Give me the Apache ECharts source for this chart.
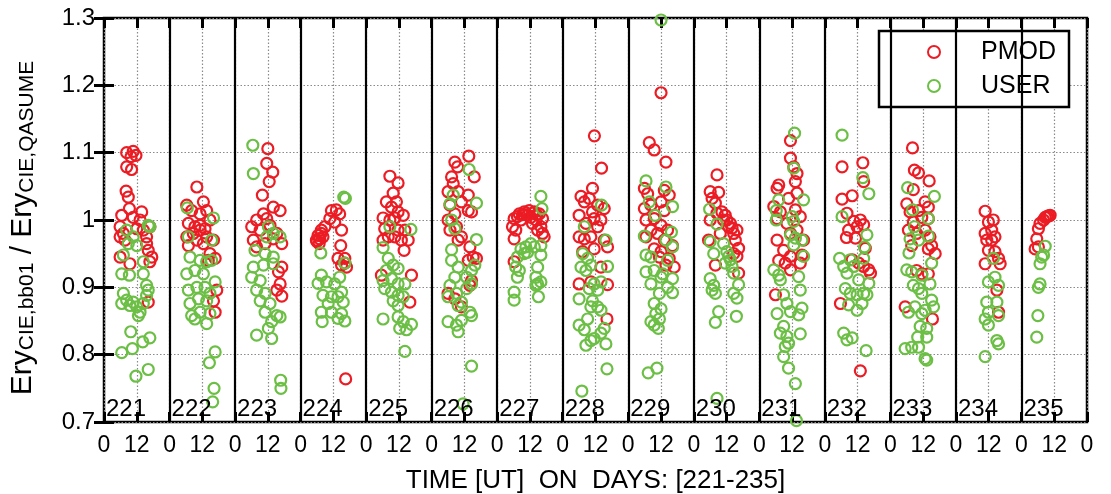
<!DOCTYPE html>
<html>
<head>
<meta charset="utf-8">
<script src="https://cdn.jsdelivr.net/npm/echarts@6/dist/echarts.min.js"></script>
<style>html,body{margin:0;padding:0;background:#fff}#chart{width:1111px;height:494px}</style>
</head>
<body>
<div id="chart"></div>
<script>
// Days shown on the time axis
const days = [221,222,223,224,225,226,227,228,229,230,231,232,233,234,235];
const yTicks = [0.7,0.8,0.9,1.0,1.1,1.2,1.3];
const xTickLabels = ['0','12'];
const seriesNames = ['PMOD','USER'];

// [day, hour UT, ratio]
const pmodPoints = [
[221,8.3,1.100],[221,10.7,1.102],[221,11.7,1.096],[221,9.9,1.094],[221,8.3,1.079],[221,10.1,1.075],
[221,8.1,1.043],[221,8.9,1.034],[221,9.3,1.017],[221,6.5,1.007],[221,13.8,1.012],[221,10.7,1.004],
[221,5.9,0.990],[221,7.1,0.980],[221,12.0,0.987],[221,14.4,0.985],[221,16.8,0.990],
[221,15.6,0.965],[221,16.2,0.955],[221,17.5,0.945],[221,16.8,0.938],[221,5.9,0.945],[221,9.5,0.935],
[221,16.2,0.878],[221,13.2,1.000],[221,7.7,0.970],[221,15.6,0.975],[221,5.9,0.975],
[222,10.0,1.049],[222,6.3,1.022],[222,12.4,1.027],[222,8.1,1.014],[222,11.2,1.009],[222,13.6,1.014],
[222,6.9,0.995],[222,9.3,0.990],[222,11.2,0.992],[222,13.0,0.987],[222,14.8,1.000],[222,6.3,0.975],[222,8.7,0.980],[222,11.2,0.985],[222,13.6,0.975],[222,16.1,0.970],[222,6.9,0.962],[222,10.0,0.970],[222,12.4,0.965],
[222,14.8,0.950],[222,16.7,0.943],[222,14.2,0.940],[222,17.3,0.896],[222,16.7,0.863],[222,16.1,0.880],
[223,12.0,1.106],[223,11.6,1.084],[223,13.8,1.071],[223,12.5,1.057],[223,10.0,1.037],
[223,14.0,1.019],[223,16.5,1.014],[223,10.4,1.009],[223,7.9,1.000],[223,11.6,1.002],
[223,6.1,0.990],[223,9.2,0.985],[223,12.8,0.992],[223,15.3,0.980],[223,6.7,0.970],[223,11.0,0.965],[223,17.1,0.965],[223,7.9,0.960],[223,14.0,0.972],
[223,17.1,0.930],[223,15.9,0.923],[223,16.5,0.905],[223,15.3,0.896],[223,17.1,0.887],
[224,11.3,1.014],[224,13.1,1.015],[224,14.3,1.009],[224,10.7,1.002],[224,12.5,0.997],[224,8.9,0.990],[224,7.6,0.985],[224,15.0,0.985],[224,6.4,0.977],[224,7.0,0.972],[224,8.2,0.975],[224,5.8,0.970],
[224,6.0,0.968],[224,6.8,0.965],[224,7.5,0.980],
[224,14.7,0.962],[224,13.7,0.943],[224,16.2,0.943],[224,15.0,0.933],[224,16.8,0.930],[224,16.2,0.936],[224,16.5,0.764],
[225,8.7,1.065],[225,11.7,1.055],[225,9.9,1.040],[225,7.4,1.027],[225,11.1,1.027],[225,9.3,1.019],[225,11.7,1.012],[225,13.6,1.007],[225,6.2,1.003],[225,8.7,1.000],[225,10.5,1.003],[225,6.8,0.987],[225,11.7,0.985],[225,14.2,0.985],[225,6.2,0.970],[225,12.9,0.970],[225,15.4,0.970],[225,8.1,0.975],[225,10.5,0.975],[225,13.9,0.955],
[225,5.6,0.918],[225,16.6,0.918],[225,16.0,0.878],
[226,13.6,1.095],[226,8.5,1.086],[226,9.5,1.079],[226,15.6,1.064],[226,7.3,1.064],[226,7.9,1.054],[226,6.0,1.042],[226,9.7,1.042],[226,13.4,1.037],[226,10.9,1.027],[226,6.7,1.022],[226,8.5,1.009],[226,13.4,1.014],[226,14.6,1.012],[226,6.0,1.000],[226,9.1,0.990],[226,6.7,0.985],[226,10.9,0.975],[226,9.7,0.970],[226,14.0,0.960],[226,15.2,0.945],[226,16.4,0.943],[226,13.4,0.940],
[226,14.6,0.910],[226,14.0,0.903],[226,6.0,0.891],[226,8.5,0.883],[226,10.9,0.871],
[227,6.2,1.002],[227,8.1,1.009],[227,9.9,1.012],[227,11.7,1.014],[227,13.6,1.012],[227,15.4,1.009],[227,16.6,1.002],[227,5.6,0.990],[227,6.8,0.985],[227,6.2,0.972],[227,16.0,0.990],[227,16.6,0.980],[227,17.2,0.975],[227,14.8,0.985],[227,12.3,1.004],[227,8.7,1.000],[227,6.2,0.938],[227,12.9,0.995],[227,14.2,1.000],[227,11.1,1.007],
[227,7.4,1.005],[227,9.3,1.008],[227,10.5,1.010],[227,13.0,1.010],[227,14.5,1.008],
[228,11.6,1.125],[228,14.2,1.077],[228,10.9,1.047],[228,6.7,1.035],[228,9.7,1.032],[228,7.9,1.027],[228,12.8,1.022],[228,15.2,1.017],[228,6.0,1.007],[228,10.9,1.012],[228,11.5,1.002],[228,14.0,1.000],[228,8.5,0.995],[228,12.8,0.990],[228,6.0,0.975],[228,7.9,0.972],[228,10.3,0.975],[228,15.2,0.970],[228,16.4,0.960],[228,11.5,0.957],[228,7.3,0.953],[228,14.0,0.930],
[228,6.0,0.905],[228,10.3,0.908],[228,16.4,0.904],[228,16.2,0.853],
[229,12.0,1.189],[229,7.7,1.115],[229,9.5,1.104],[229,13.8,1.086],
[229,5.9,1.047],[229,7.1,1.039],[229,13.2,1.044],[229,15.0,1.037],[229,5.9,1.017],[229,8.3,1.022],[229,12.0,1.027],[229,13.2,1.014],[229,6.5,1.000],[229,9.5,1.002],[229,12.0,0.992],[229,8.3,0.985],[229,10.7,0.980],[229,14.4,0.985],[229,6.5,0.975],[229,13.2,0.970],[229,16.2,0.962],[229,9.5,0.957],[229,12.0,0.953],[229,15.0,0.943],[229,16.8,0.930],[229,13.8,0.933],[229,11.4,0.945],
[230,8.5,1.067],[230,6.0,1.042],[230,9.1,1.041],[230,6.7,1.032],[230,7.9,1.025],
[230,8.5,1.010],[230,10.3,1.012],[230,11.5,1.007],[230,12.1,1.000],[230,13.4,0.995],[230,14.0,0.988],[230,14.6,0.980],[230,15.8,0.985],[230,15.2,0.970],[230,16.4,0.958],[230,15.8,0.946],[230,6.0,1.000],[230,5.4,0.970],[230,9.7,0.980],[230,7.9,0.933],[230,16.4,0.921],[230,14.6,0.950],[230,10.9,1.000],[230,12.8,0.990],
[231,11.4,1.118],[231,11.4,1.092],[231,12.6,1.079],[231,13.8,1.069],[231,13.2,1.057],[231,7.1,1.052],[231,6.5,1.047],[231,13.8,1.040],[231,10.7,1.032],[231,5.3,1.020],[231,7.7,1.012],[231,13.2,1.015],[231,6.5,1.002],[231,10.1,0.995],[231,15.0,1.005],[231,13.8,0.985],[231,11.4,0.980],[231,16.2,0.970],[231,6.5,0.970],[231,8.9,0.955],[231,11.4,0.946],[231,9.5,0.936],[231,15.0,0.936],[231,11.4,0.926],[231,5.9,0.889],[231,15.6,0.948],[231,7.1,0.940],
[232,6.3,1.079],[232,13.9,1.085],[232,14.2,1.057],[232,6.3,1.031],[232,10.0,1.036],
[232,8.1,1.010],[232,10.6,0.998],[232,13.0,1.000],[232,8.7,0.985],[232,11.8,0.990],[232,14.2,0.993],[232,7.9,0.974],[232,11.2,0.973],[232,14.8,0.958],[232,10.0,0.941],[232,12.4,0.936],[232,14.2,0.931],[232,16.1,0.926],[232,16.7,0.921],[232,5.7,0.876],[232,13.0,0.776],
[233,8.1,1.107],[233,8.8,1.074],[233,10.3,1.070],[233,14.2,1.058],[233,8.4,1.045],[233,6.0,1.024],[233,7.2,1.012],[233,12.7,1.027],[233,13.9,1.019],[233,10.3,1.014],[233,11.5,1.004],[233,8.4,0.997],[233,13.9,1.002],[233,6.6,0.985],[233,9.6,0.980],[233,12.7,0.985],[233,14.5,0.975],[233,15.1,0.962],[233,16.4,0.950],[233,13.9,0.957],[233,7.8,0.962],
[233,11.5,0.920],[233,13.9,0.920],[233,9.6,0.925],[233,5.4,0.871],[233,15.4,0.853],
[234,10.7,1.013],[234,13.7,1.000],[234,11.9,0.997],[234,10.7,0.980],[234,13.1,0.985],[234,14.3,0.975],[234,11.3,0.970],[234,13.1,0.970],[234,11.9,0.955],[234,14.3,0.953],[234,15.6,0.943],[234,10.7,0.935],[234,16.2,0.935],[234,15.0,0.896],[234,15.6,0.863],
[235,10.5,1.007],[235,9.3,1.005],[235,8.1,1.000],[235,6.8,0.995],[235,6.2,0.987],[235,8.7,1.004],[235,5.6,0.972],[235,5.0,0.957],[235,6.2,0.960],[235,9.9,1.006]
];

const userPoints = [
[221,8.3,0.985],[221,10.7,0.975],[221,8.9,0.965],[221,12.0,0.962],[221,7.1,0.948],[221,16.2,0.992],[221,16.8,0.990],
[221,14.4,0.938],[221,14.4,0.920],[221,6.5,0.920],[221,9.3,0.918],[221,15.6,0.903],[221,16.2,0.896],
[221,7.1,0.891],[221,8.3,0.881],[221,6.5,0.876],[221,10.7,0.878],[221,12.0,0.871],[221,13.2,0.863],[221,12.6,0.858],[221,14.4,0.876],[221,15.6,0.888],[221,9.5,0.873],
[221,9.8,0.834],[221,10.4,0.809],[221,6.5,0.803],[221,14.2,0.819],[221,16.8,0.825],[221,11.7,0.768],[221,16.2,0.778],
[222,6.5,1.018],[222,16.1,1.003],[222,6.9,0.975],[222,15.4,0.970],
[222,7.5,0.945],[222,11.2,0.940],[222,13.6,0.938],[222,15.4,0.940],
[222,6.3,0.920],[222,9.3,0.925],[222,12.4,0.920],[222,16.7,0.908],[222,6.9,0.896],[222,10.0,0.900],[222,13.0,0.900],[222,14.8,0.891],[222,7.5,0.876],[222,10.6,0.883],[222,13.6,0.880],[222,8.1,0.858],[222,11.2,0.863],[222,14.8,0.861],[222,9.3,0.853],[222,13.6,0.846],
[222,16.7,0.804],[222,14.6,0.788],[222,16.3,0.750],[222,15.8,0.730],
[223,6.5,1.111],[223,6.7,1.069],[223,12.2,0.990],[223,14.0,0.980],[223,16.5,0.975],[223,11.6,0.975],[223,7.3,0.955],[223,11.0,0.950],[223,14.0,0.945],
[223,6.7,0.930],[223,10.4,0.933],[223,14.0,0.935],[223,6.1,0.915],[223,9.2,0.910],[223,7.9,0.896],[223,11.0,0.891],[223,9.2,0.880],[223,12.8,0.876],[223,11.0,0.863],[223,15.3,0.858],[223,16.5,0.856],[223,13.4,0.849],[223,12.2,0.839],[223,7.9,0.829],[223,13.4,0.824],
[223,16.7,0.762],[223,16.8,0.750],
[224,15.8,1.034],[224,16.4,1.032],[224,7.4,0.951],[224,16.2,0.936],
[224,7.6,0.918],[224,6.4,0.906],[224,9.5,0.908],[224,12.5,0.905],[224,14.3,0.915],[224,15.0,0.893],[224,8.2,0.888],[224,11.3,0.886],[224,13.7,0.886],[224,10.1,0.876],[224,15.6,0.878],[224,7.6,0.863],[224,11.3,0.863],[224,15.0,0.861],[224,7.9,0.849],[224,13.7,0.854],[224,16.2,0.850],
[225,8.7,0.990],[225,16.4,0.986],[225,6.2,0.959],
[225,8.1,0.943],[225,9.9,0.933],[225,11.7,0.928],[225,7.4,0.925],[225,6.2,0.910],[225,9.3,0.913],[225,11.7,0.905],[225,14.2,0.905],[225,6.8,0.898],[225,9.3,0.893],[225,11.7,0.888],[225,13.6,0.886],[225,9.9,0.880],[225,11.7,0.873],[225,6.2,0.853],[225,11.7,0.856],[225,13.6,0.849],[225,12.3,0.839],[225,14.8,0.837],[225,16.6,0.845],[225,14.2,0.805],
[226,13.7,1.075],[226,16.4,1.025],[226,6.7,1.024],[226,7.9,1.037],[226,7.3,1.000],[226,8.5,0.987],[226,16.4,0.971],[226,7.3,0.956],
[226,7.3,0.940],[226,9.7,0.930],[226,8.5,0.915],[226,6.7,0.903],[226,12.8,0.915],[226,15.8,0.933],[226,14.6,0.925],[226,12.8,0.898],[226,14.6,0.905],[226,9.1,0.891],[226,10.9,0.878],[226,6.0,0.886],[226,9.7,0.873],[226,14.0,0.863],[226,14.6,0.858],[226,10.9,0.851],[226,6.0,0.849],[226,9.1,0.844],[226,9.7,0.834],
[226,14.6,0.783],[226,11.5,0.727],
[227,16.0,1.035],[227,16.4,1.017],[227,16.0,0.962],[227,16.0,0.948],[227,14.8,0.930],[227,14.2,0.915],[227,14.8,0.905],[227,14.2,0.903],[227,16.0,0.908],[227,15.1,0.886],
[227,8.7,0.957],[227,10.5,0.960],[227,12.3,0.965],[227,7.4,0.945],[227,9.9,0.950],[227,6.8,0.930],[227,8.1,0.925],[227,7.4,0.915],[227,6.2,0.893],[227,6.2,0.881],[227,13.6,0.960],[227,11.1,0.952],
[228,14.2,1.022],[228,7.9,0.990],[228,15.8,0.970],[228,16.4,0.931],
[228,7.3,0.950],[228,9.1,0.943],[228,6.7,0.930],[228,10.3,0.933],[228,8.5,0.925],[228,11.5,0.905],[228,14.0,0.908],[228,9.7,0.898],[228,12.8,0.896],[228,6.0,0.883],[228,10.9,0.880],[228,12.8,0.871],[228,10.3,0.871],[228,14.0,0.866],[228,9.1,0.853],[228,6.0,0.844],[228,7.9,0.837],[228,15.2,0.839],[228,14.0,0.832],[228,10.3,0.821],[228,8.5,0.814],[228,11.5,0.824],[228,15.8,0.816],[228,16.2,0.779],[228,7.0,0.746],
[229,12.0,1.297],[229,6.5,1.058],[229,13.8,1.049],[229,7.7,1.027],[229,9.8,1.007],[229,16.2,1.020],[229,15.8,0.982],[229,5.9,0.976],[229,13.8,0.970],[229,16.2,0.960],
[229,6.5,0.948],[229,8.3,0.945],[229,14.4,0.940],[229,6.5,0.923],[229,9.5,0.925],[229,12.6,0.920],[229,8.3,0.905],[229,12.0,0.915],[229,16.2,0.913],[229,14.4,0.900],[229,11.4,0.891],[229,16.2,0.892],[229,9.5,0.876],[229,12.0,0.868],[229,10.1,0.861],[229,8.3,0.849],[229,11.4,0.853],[229,9.5,0.844],[229,11.0,0.839],[229,7.3,0.773],[229,10.5,0.780],
[230,5.8,1.016],[230,8.5,0.994],[230,6.0,0.968],[230,7.3,0.950],[230,10.9,0.965],[230,12.1,0.953],[230,13.4,0.941],[230,14.0,0.931],[230,14.6,0.921],[230,12.8,0.946],[230,11.5,0.936],
[230,6.0,0.913],[230,7.3,0.903],[230,7.9,0.891],[230,6.7,0.896],[230,16.4,0.904],[230,14.6,0.891],[230,15.8,0.884],[230,9.1,0.864],[230,7.9,0.848],[230,15.6,0.857],[230,8.5,0.735],
[231,12.9,1.129],[231,12.6,1.077],[231,16.2,1.030],[231,7.1,1.030],[231,6.2,1.014],[231,6.2,1.000],[231,12.0,1.005],[231,12.6,0.998],
[231,11.4,0.978],[231,13.2,0.973],[231,15.6,0.970],[231,12.6,0.963],[231,16.2,0.946],[231,5.3,0.926],[231,7.1,0.918],[231,7.7,0.911],[231,14.4,0.916],[231,15.0,0.896],[231,8.9,0.889],[231,10.1,0.876],[231,6.5,0.861],[231,11.4,0.864],[231,15.6,0.869],[231,14.4,0.859],
[231,8.9,0.842],[231,7.7,0.832],[231,10.1,0.827],[231,15.0,0.831],[231,9.5,0.812],[231,10.7,0.817],[231,8.9,0.797],[231,10.7,0.780],[231,13.2,0.757],[231,13.6,0.702],
[232,6.3,1.126],[232,13.9,1.063],[232,16.1,1.039],[232,6.3,1.005],
[232,15.4,0.978],[232,14.5,0.960],[232,14.2,0.943],[232,5.4,0.943],[232,6.9,0.931],[232,9.3,0.941],[232,8.1,0.921],[232,10.6,0.931],[232,16.1,0.906],[232,12.4,0.911],[232,7.5,0.898],[232,9.3,0.891],[232,11.8,0.889],[232,14.2,0.891],[232,15.4,0.889],[232,8.7,0.874],[232,13.6,0.876],[232,11.8,0.866],
[232,6.9,0.832],[232,8.1,0.822],[232,10.0,0.825],[232,15.1,0.806],
[233,6.3,1.048],[233,16.1,1.035],[233,8.1,1.015],[233,13.9,1.002],[233,8.8,0.990],[233,7.2,0.972],[233,13.9,0.976],[233,10.3,0.970],[233,6.8,0.951],[233,15.1,0.936],
[233,6.0,0.926],[233,7.8,0.923],[233,11.5,0.918],[233,14.5,0.905],[233,8.4,0.903],[233,10.3,0.898],[233,11.5,0.891],[233,6.6,0.863],[233,9.0,0.871],[233,12.7,0.866],[233,15.1,0.881],[233,15.8,0.871],[233,11.5,0.861],[233,10.9,0.842],[233,13.3,0.839],[233,10.0,0.826],[233,13.3,0.826],[233,5.4,0.809],[233,7.8,0.811],[233,10.3,0.811],[233,13.3,0.792],[233,12.7,0.794],
[234,13.7,0.943],[234,14.3,0.915],[234,11.9,0.908],[234,15.6,0.903],[234,11.3,0.878],[234,15.0,0.878],[234,11.9,0.863],[234,10.7,0.853],[234,15.6,0.858],[234,11.9,0.844],[234,15.0,0.821],[234,15.6,0.816],[234,10.7,0.797],
[235,8.7,0.961],[235,8.1,0.948],[235,7.4,0.945],[235,6.8,0.935],[235,6.8,0.905],[235,6.2,0.900],[235,6.0,0.858],[235,5.6,0.826]
];

const firstDay = days[0];
const toXY = p => [(p[0] - firstDay) * 24 + p[1], p[2]];
const xMax = days.length * 24;
const boundaries = days.slice(1).map(d => (d - firstDay) * 24);

const FONT = 'Liberation Sans, Arial, Helvetica, sans-serif';
const RED = '#ec1c24';
const GREEN = '#6cbf45';

const chart = echarts.init(document.getElementById('chart'), null, {renderer: 'canvas'});
const gridLine = {show: true, lineStyle: {color: '#8a8a8a', width: 1.2, type: [1.5, 2]}};

chart.setOption({
  animation: false,
  backgroundColor: '#fff',
  grid: {left: 104, right: 24, top: 18, bottom: 72, outerBoundsMode: 'none', containLabel: false,
    show: true, borderColor: '#000', borderWidth: 2.5, backgroundColor: 'transparent'},
  legend: {
    data: seriesNames,
    orient: 'vertical',
    left: 879, top: 31,
    backgroundColor: '#fff',
    borderColor: '#000', borderWidth: 2.5, borderRadius: 0,
    padding: [8, 13, 8, 48],
    itemWidth: 12, itemHeight: 12, itemGap: 8,
    textStyle: {fontFamily: FONT, fontSize: 25, color: '#000', lineHeight: 26, padding: [0, 0, 0, 36]}
  },
  xAxis: [{
    type: 'value', min: 0, max: xMax, interval: 12, position: 'bottom',
    name: 'TIME [UT]  ON  DAYS: [' + days[0] + '-' + days[days.length - 1] + ']',
    nameLocation: 'middle', nameGap: 46,
    nameTextStyle: {fontFamily: FONT, fontSize: 26, color: '#000'},
    axisLine: {show: false},
    axisTick: {show: true, inside: true, length: 10, lineStyle: {color: '#000', width: 3}},
    axisLabel: {fontFamily: FONT, fontSize: 23, color: '#000', margin: 12,
      formatter: v => (Math.round(v) % 24 === 0 ? xTickLabels[0] : xTickLabels[1])},
    splitLine: gridLine
  }, {
    type: 'value', min: 0, max: xMax, interval: 12, position: 'top',
    axisLine: {show: false},
    axisTick: {show: true, inside: true, length: 10, lineStyle: {color: '#000', width: 3}},
    axisLabel: {show: false}, splitLine: {show: false}
  }],
  yAxis: [{
    type: 'value', min: yTicks[0], max: yTicks[yTicks.length - 1], interval: 0.1,
    name: '{a|Ery}{s|CIE,bb01}{a| / Ery}{s|CIE,QASUME}',
    nameLocation: 'middle', nameRotate: 90, nameGap: 66,
    nameTextStyle: {
      color: '#000',
      padding: [0, 16, 0, 0],
      rich: {
        a: {fontFamily: FONT, fontSize: 30, lineHeight: 30, color: '#000'},
        s: {fontFamily: FONT, fontSize: 21, lineHeight: 11, verticalAlign: 'bottom', color: '#000'}
      }
    },
    axisLine: {show: false},
    axisTick: {show: true, inside: true, length: 10, lineStyle: {color: '#000', width: 3}},
    axisLabel: {fontFamily: FONT, fontSize: 24, color: '#000', margin: 9,
      formatter: v => String(+v.toFixed(1))},
    splitLine: gridLine
  }, {
    type: 'value', min: yTicks[0], max: yTicks[yTicks.length - 1], interval: 0.1, position: 'right',
    axisLine: {show: false},
    axisTick: {show: true, inside: true, length: 10, lineStyle: {color: '#000', width: 3}},
    axisLabel: {show: false}, splitLine: {show: false}
  }],
  series: [{
    name: seriesNames[0], type: 'scatter', xAxisIndex: 0, yAxisIndex: 0,
    symbol: 'circle', symbolSize: 11,
    itemStyle: {color: 'rgba(0,0,0,0)', borderColor: RED, borderWidth: 2.2, opacity: 1},
    data: pmodPoints.map(toXY),
    markLine: {
      silent: true, symbol: 'none', label: {show: false},
      lineStyle: {color: '#000', width: 2.2, type: 'solid', opacity: 1},
      data: boundaries.map(x => ({xAxis: x}))
    },
    z: 3
  }, {
    name: seriesNames[1], type: 'scatter', xAxisIndex: 0, yAxisIndex: 0,
    symbol: 'circle', symbolSize: 11,
    itemStyle: {color: 'rgba(0,0,0,0)', borderColor: GREEN, borderWidth: 2.2, opacity: 1},
    data: userPoints.map(toXY),
    z: 4
  }, {
    name: 'days', type: 'scatter', xAxisIndex: 0, yAxisIndex: 0,
    symbolSize: 0, silent: true,
    itemStyle: {opacity: 1},
    data: days.map(d => [(d - firstDay) * 24, yTicks[0]]),
    label: {show: true, position: [2, -1], align: 'left', verticalAlign: 'bottom',
      fontFamily: FONT, fontSize: 24, color: '#000', opacity: 1,
      formatter: p => String(days[p.dataIndex])},
    z: 5
  }]
});
</script>
</body>
</html>
